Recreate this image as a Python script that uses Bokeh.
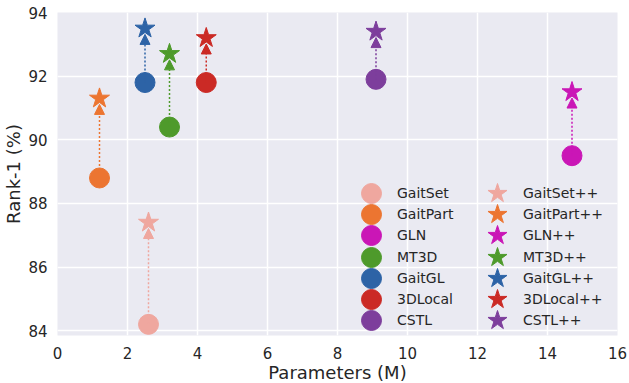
from bokeh.plotting import figure
from bokeh.models import Arrow, NormalHead, Legend, LegendItem, FixedTicker, Range1d
from bokeh.embed import file_html
from bokeh.resources import INLINE

methods = ["GaitSet", "GaitPart", "GLN", "MT3D", "GaitGL", "3DLocal", "CSTL"]
params = [2.6, 1.2, 14.7, 3.2, 2.5, 4.25, 9.1]
rank1_base = [84.2, 88.8, 89.5, 90.4, 91.8, 91.8, 91.9]
rank1_plus = [87.4, 91.3, 91.5, 92.7, 93.5, 93.2, 93.4]
colors = ["#EFA79F", "#EC7531", "#CA16B6", "#4E9A2B", "#2D63A6", "#CB2A25", "#7D3E9C"]
x_ticks = [0, 2, 4, 6, 8, 10, 12, 14, 16]
y_ticks = [84, 86, 88, 90, 92, 94]

FONT = "DejaVu Sans"
TXT = "#262626"

p = figure(frame_width=560, frame_height=323,
           output_backend="svg", toolbar_location=None,
           x_range=Range1d(0, 16), y_range=Range1d(83.85, 94.0),
           background_fill_color="#EAEAF2", border_fill_color="white",
           min_border_left=10, min_border_right=10, min_border_top=12, min_border_bottom=3)
p.outline_line_color = None
for ax in (p.xaxis[0], p.yaxis[0]):
    ax.axis_line_color = None
    ax.major_tick_line_color = None
    ax.minor_tick_line_color = None
    ax.major_label_text_font = FONT
    ax.major_label_text_font_size = "15px"
    ax.major_label_text_color = TXT
    ax.axis_label_text_font = FONT
    ax.axis_label_text_font_size = "18px"
    ax.axis_label_text_font_style = "normal"
    ax.axis_label_text_color = TXT
p.xaxis.ticker = FixedTicker(ticks=x_ticks)
p.yaxis.ticker = FixedTicker(ticks=y_ticks)
p.xaxis.axis_label = "Parameters (M)"
p.yaxis.axis_label = "Rank-1 (%)"
p.xaxis.major_label_standoff = 5
p.yaxis.major_label_standoff = 4
p.xaxis.axis_label_standoff = 0
p.yaxis.axis_label_standoff = 1
p.grid.grid_line_color = "white"
p.grid.grid_line_width = 1.5
p.grid.minor_grid_line_color = None

px_per_unit = 323 / (94.0 - 83.85)
tip_offset = 6 / px_per_unit

# arrows
for x, b, s, c in zip(params, rank1_base, rank1_plus, colors):
    p.add_layout(Arrow(x_start=x, y_start=b, x_end=x, y_end=s - tip_offset,
                       line_color=c, line_width=1.5, line_dash="2 2",
                       end=NormalHead(size=10, fill_color=c, line_color=c, line_width=1),
                       level="glyph"))

base_r, plus_r = [], []
for x, b, s, c in zip(params, rank1_base, rank1_plus, colors):
    base_r.append(p.scatter([x], [b], marker="circle", size=20, fill_color=c, line_color=c))
    plus_r.append(p.scatter([x], [s], marker="star", size=21, fill_color=c, line_color=c))

# legend: one small legend per entry, two columns of seven
ROW_PITCH = 21.2
TOP_Y = 117
COL_X = [289, 415]
for i, m in enumerate(methods):
    for col, (lbl, r) in enumerate([(m, base_r[i]), (m + "++", plus_r[i])]):
        lg = Legend(items=[LegendItem(label=lbl, renderers=[r])],
                    location=(COL_X[col], TOP_Y - ROW_PITCH * i),
                    glyph_width=50, glyph_height=50, label_height=50,
                    label_standoff=1, padding=0, margin=0,
                    border_line_color=None, background_fill_alpha=0,
                    label_text_font=FONT, label_text_font_size="14px",
                    label_text_color=TXT)
        p.add_layout(lg, "center")

open("out.html", "w").write(file_html(p, INLINE))
